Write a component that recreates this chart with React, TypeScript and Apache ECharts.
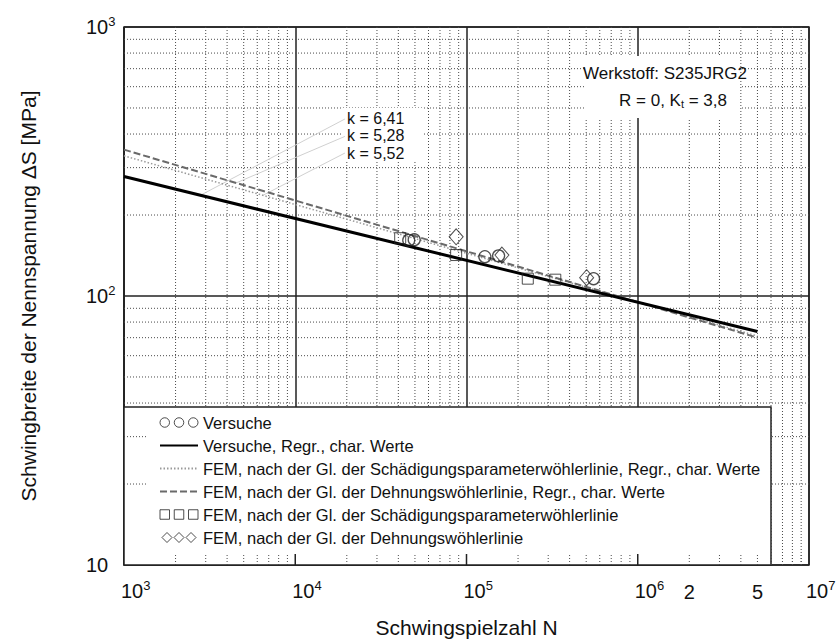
import React, { useEffect, useRef } from "react";
import * as echarts from "echarts";

const FONT = "'Liberation Sans', Arial, Helvetica, sans-serif";
const X_MIN = 1e3;
const X_MAX = 1e7;
const Y_MIN = 10;
const Y_MAX = 1000;

// Regression lines (start / end)
const regrN = [1e3, 5e6];
const versucheRegrS = [278, 73.8];
const schadRegrS = [332, 71];
const dehnRegrS = [350, 70];

// Test / FEM points
const versucheN = [46000, 49500, 128000, 154000, 552000];
const versucheS = [161, 162, 140, 141, 116];
const schadN = [41000, 87000, 228000, 330000];
const schadS = [164, 142, 116, 115];
const dehnN = [87000, 161000, 503000];
const dehnS = [166, 142, 117];

// k annotations and leader lines
const kLabels = ["k = 6,41", "k = 5,28", "k = 5,52"];
const leaderFromN = [19500, 19500, 19500];
const leaderFromS = [455, 392, 340];
const leaderToN = [2800, 4500, 6500];
const leaderToS = [237, 263, 237];

// x tick labels
const xLabelN = [1e3, 1e4, 1e5, 1e6, 1e7];
const xLabelExp = ["3", "4", "5", "6", "7"];
const extraTickN = [2e6, 5e6];
const extraTickText = ["2", "5"];

const minorMult = [2, 3, 4, 5, 6, 7, 8, 9];
const xDecades = [1e3, 1e4, 1e5, 1e6];
const yDecades = [10, 100];
const xMajorInner = [1e4, 1e5, 1e6];
const yLegendTicks = [20, 30];

const NAME_VERS = "Versuche";
const NAME_VERS_R = "Versuche, Regr., char. Werte";
const NAME_SCHAD_R = "FEM, nach der Gl. der Schädigungsparameterwöhlerlinie, Regr., char. Werte";
const NAME_DEHN_R = "FEM, nach der Gl. der Dehnungswöhlerlinie, Regr., char. Werte";
const NAME_SCHAD = "FEM, nach der Gl. der Schädigungsparameterwöhlerlinie";
const NAME_DEHN = "FEM, nach der Gl. der Dehnungswöhlerlinie";

export default function App() {
  const ref = useRef<HTMLDivElement>(null);

  useEffect(() => {
    document.body.style.margin = "0";
    if (!ref.current) return;
    const chart = echarts.init(ref.current, null, { renderer: "svg" });

    const xMinor: number[] = [];
    xDecades.forEach((d) => minorMult.forEach((m) => xMinor.push(d * m)));
    const yMinor: number[] = [];
    yDecades.forEach((d) => minorMult.forEach((m) => yMinor.push(d * m)));

    const pairs = (a: number[], b: number[]) => a.map((v, i) => [v, b[i]]);

    const supRich = {
      b: { fontSize: 20, lineHeight: 20, fontFamily: FONT, fill: "#111", color: "#111" },
      s: { fontSize: 13, lineHeight: 14, padding: [0, 0, 12, 0], fontFamily: FONT, fill: "#111", color: "#111" },
    };

    const gridLineSeries = (
      name: string,
      vals: number[],
      dir: "v" | "h",
      style: any,
      z: number
    ) => ({
      type: "custom",
      name,
      silent: true,
      z,
      clip: false,
      data: vals.map((v) => (dir === "v" ? [v, Y_MIN] : [X_MIN, v])),
      renderItem: (_p: any, api: any) => {
        const v0 = api.value(0);
        const v1 = api.value(1);
        const a = dir === "v" ? api.coord([v0, Y_MIN]) : api.coord([X_MIN, v1]);
        const b = dir === "v" ? api.coord([v0, Y_MAX]) : api.coord([X_MAX, v1]);
        return {
          type: "line",
          shape: { x1: a[0], y1: a[1], x2: b[0], y2: b[1] },
          style,
        };
      },
    });

    const tickSeries = (
      name: string,
      vals: number[],
      dir: "v" | "h",
      len: number,
      style: any
    ) => ({
      type: "custom",
      name,
      silent: true,
      z: 4,
      clip: false,
      data: vals.map((v) => (dir === "v" ? [v, Y_MIN] : [X_MIN, v])),
      renderItem: (_p: any, api: any) => {
        const p = api.coord([api.value(0), api.value(1)]);
        return {
          type: "line",
          shape:
            dir === "v"
              ? { x1: p[0], y1: p[1], x2: p[0], y2: p[1] - len }
              : { x1: p[0], y1: p[1], x2: p[0] + len, y2: p[1] },
          style,
        };
      },
    });

    const dotted = { stroke: "#4a4a4a", lineWidth: 1, lineDash: [1, 2] };
    const solidGrid = { stroke: "#222", lineWidth: 1.5 };

    const leaderSeries = leaderFromN.map((n, i) => ({
      type: "line",
      name: "leader" + i,
      silent: true,
      z: 3.5,
      symbol: "none",
      lineStyle: { color: "#d0d0d0", width: 1 },
      data: [
        [n, leaderFromS[i]],
        [leaderToN[i], leaderToS[i]],
      ],
    }));

    const circlesIcon =
      "path://M1,5A4,4 0 1,1 9,5A4,4 0 1,1 1,5Z M13,5A4,4 0 1,1 21,5A4,4 0 1,1 13,5Z M25,5A4,4 0 1,1 33,5A4,4 0 1,1 25,5Z";
    const squaresIcon =
      "path://M1,1H9V9H1Z M13,1H21V9H13Z M25,1H33V9H25Z";
    const diamondsIcon =
      "path://M0,5L5,0L10,5L5,10Z M12,5L17,0L22,5L17,10Z M24,5L29,0L34,5L29,10Z";
    const hollow = { color: "rgba(0,0,0,0)", borderColor: "#222", borderWidth: 1 };
    const noSymbol = { opacity: 0 };

    const option: any = {
      animation: false,
      backgroundColor: "#fff",
      textStyle: { fontFamily: FONT },
      grid: {
        left: 124,
        right: 30,
        top: 27,
        bottom: 77,
        show: true,
        borderColor: "#222",
        borderWidth: 1.5,
        backgroundColor: "transparent",
        containLabel: false,
        outerBoundsMode: "none",
      },
      xAxis: [
        {
          type: "log",
          logBase: 10,
          min: X_MIN,
          max: X_MAX,
          name: "Schwingspielzahl N",
          nameLocation: "middle",
          nameGap: 52,
          nameTextStyle: { fontSize: 21, color: "#111", fontFamily: FONT },
          axisLine: { show: false },
          axisTick: { show: false },
          splitLine: { show: true, lineStyle: { color: "#222", width: 1.5 } },
          axisLabel: { show: false },
        },
      ],
      yAxis: [
        {
          type: "log",
          logBase: 10,
          min: Y_MIN,
          max: Y_MAX,
          name: "Schwingbreite der Nennspannung ΔS [MPa]",
          nameLocation: "middle",
          nameGap: 85,
          nameTextStyle: { fontSize: 21, color: "#111", fontFamily: FONT },
          axisLine: { show: false },
          axisTick: { show: false },
          splitLine: { show: true, lineStyle: { color: "#222", width: 1.5 } },
          axisLabel: {
            show: true,
            margin: 38,
            align: "left",
            color: "#111",
            formatter: (v: number) => {
              const e = Math.round(Math.log10(v));
              return e === 1 ? "{b|10}" : `{b|10}{s|${e}}`;
            },
            rich: supRich,
          },
        },
      ],
      legend: {
        orient: "vertical",
        left: 159,
        top: 414,
        padding: 0,
        itemGap: 6,
        itemWidth: 38,
        itemHeight: 10,
        selectedMode: false,
        textStyle: { fontSize: 16.5, lineHeight: 17, color: "#111", fontFamily: FONT },
        data: [
          { name: NAME_VERS, icon: circlesIcon, itemStyle: hollow },
          { name: NAME_VERS_R, itemStyle: noSymbol },
          { name: NAME_SCHAD_R, itemStyle: noSymbol },
          { name: NAME_DEHN_R, itemStyle: noSymbol },
          { name: NAME_SCHAD, icon: squaresIcon, itemStyle: hollow },
          { name: NAME_DEHN, icon: diamondsIcon, itemStyle: hollow },
        ],
      },
      graphic: {
        elements: [
          {
            type: "rect",
            z: 3,
            shape: { x: 124, y: 407, width: 647, height: 158 },
            style: { fill: "#fff", stroke: "#222", lineWidth: 1.5 },
          },
          {
            type: "rect",
            z: 3,
            shape: { x: 584, y: 56, width: 156, height: 62 },
            style: { fill: "#fff" },
          },
          {
            type: "rect",
            z: 3,
            shape: { x: 342, y: 108, width: 80, height: 54 },
            style: { fill: "#fff" },
          },
          {
            type: "text",
            z: 4,
            x: 665,
            y: 73,
            style: {
              text: "Werkstoff: S235JRG2",
              font: `17px ${FONT}`,
              fill: "#111",
              textAlign: "center",
              textVerticalAlign: "middle",
            },
          },
          {
            type: "text",
            z: 4,
            x: 673,
            y: 100,
            style: {
              text: "R = 0, K{sub|t} = 3,8",
              fill: "#111",
              textAlign: "center",
              textVerticalAlign: "middle",
              rich: {
                sub: { fontSize: 11, lineHeight: 11, padding: [8, 0, 0, 0], fontFamily: FONT, fill: "#111" },
              },
              font: `17px ${FONT}`,
              fontSize: 17,
              fontFamily: FONT,
            },
          },
          ...kLabels.map((t, i) => ({
            type: "text",
            z: 4,
            x: 347,
            y: 118 + i * 17.5,
            style: {
              text: t,
              font: `16px ${FONT}`,
              fill: "#111",
              textAlign: "left",
              textVerticalAlign: "middle",
            },
          })),
        ],
      },
      series: [
        gridLineSeries("gx", xMinor, "v", dotted, 1),
        gridLineSeries("gy", yMinor, "h", dotted, 1),
        tickSeries("tx", xMinor, "v", 11, dotted),
        tickSeries("txM", xMajorInner, "v", 11, solidGrid),
        tickSeries("ty", yLegendTicks, "h", 24, dotted),
        {
          type: "custom",
          name: "xLabels",
          silent: true,
          z: 4,
          clip: false,
          data: xLabelN.map((n) => [n, Y_MIN]),
          renderItem: (p: any, api: any) => {
            const c = api.coord([api.value(0), api.value(1)]);
            return {
              type: "text",
              x: c[0] - 3,
              y: c[1] + 16,
              style: {
                text: `{b|10}{s|${xLabelExp[p.dataIndex]}}`,
                rich: supRich,
                font: `20px ${FONT}`,
                fill: "#111",
                textAlign: "left",
                textVerticalAlign: "top",
              },
            };
          },
        },
        {
          type: "custom",
          name: "extraTicks",
          silent: true,
          z: 4,
          clip: false,
          data: extraTickN.map((n) => [n, Y_MIN]),
          renderItem: (p: any, api: any) => {
            const c = api.coord([api.value(0), api.value(1)]);
            return {
              type: "text",
              x: c[0],
              y: c[1] + 27,
              style: {
                text: extraTickText[p.dataIndex],
                font: `20px ${FONT}`,
                fill: "#111",
                textAlign: "center",
                textVerticalAlign: "middle",
              },
            };
          },
        },
        ...leaderSeries,
        {
          type: "line",
          name: NAME_SCHAD_R,
          z: 5,
          symbol: "none",
          lineStyle: { color: "#9a9a9a", width: 1.5, type: [1.5, 2] },
          itemStyle: { color: "#9a9a9a" },
          data: pairs(regrN, schadRegrS),
        },
        {
          type: "line",
          name: NAME_DEHN_R,
          z: 5,
          symbol: "none",
          lineStyle: { color: "#6a6a6a", width: 2, type: [7, 3] },
          itemStyle: { color: "#6a6a6a" },
          data: pairs(regrN, dehnRegrS),
        },
        {
          type: "line",
          name: NAME_VERS_R,
          z: 6,
          symbol: "none",
          lineStyle: { color: "#000", width: 3 },
          itemStyle: { color: "#000" },
          data: pairs(regrN, versucheRegrS),
        },
        {
          type: "scatter",
          name: NAME_SCHAD,
          z: 7,
          symbol: "rect",
          symbolSize: 11,
          itemStyle: hollow,
          data: pairs(schadN, schadS),
        },
        {
          type: "scatter",
          name: NAME_DEHN,
          z: 7,
          symbol: "diamond",
          symbolSize: [14, 16],
          itemStyle: hollow,
          data: pairs(dehnN, dehnS),
        },
        {
          type: "scatter",
          name: NAME_VERS,
          z: 7,
          symbol: "circle",
          symbolSize: 12,
          itemStyle: { ...hollow, borderWidth: 1.3 },
          data: pairs(versucheN, versucheS),
        },
      ],
    };

    chart.setOption(option);
    return () => chart.dispose();
  }, []);

  return <div ref={ref} style={{ width: 839, height: 642 }} />;
}
